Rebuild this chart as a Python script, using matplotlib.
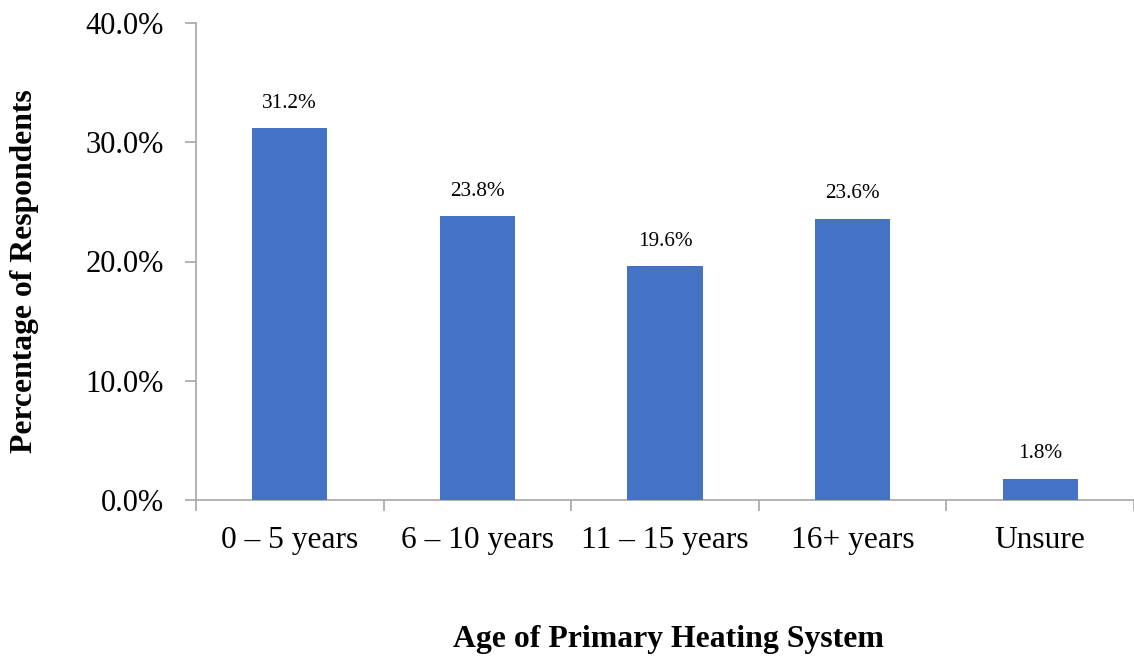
import numpy as np
import matplotlib
matplotlib.use('Agg')
import matplotlib.pyplot as plt
from matplotlib.ticker import FuncFormatter

categories = ['0 – 5 years', '6 – 10 years', '11 – 15 years', '16+ years', 'Unsure']
values = [31.2, 23.8, 19.6, 23.6, 1.8]

plt.rcParams['font.family'] = ['Liberation Serif', 'DejaVu Serif']

W, H = 1134, 658
fig = plt.figure(figsize=(W / 100, H / 100), dpi=100)
left, zero_y, top_y = 196, 500, 23
step = 188.6  # pixels per category
ax = fig.add_axes([left / W, 1 - zero_y / H, (W - left) / W, (zero_y - top_y) / H])

x = np.arange(len(categories))
ax.bar(x, values, width=0.4, color='#4472C4', zorder=3)

for xi, v in zip(x, values):
    ax.annotate('{:.1f}%'.format(v), (xi, v), xytext=(0, 11), textcoords='offset points',
                ha='center', va='bottom', fontsize=15.3)

ax.set_ylim(0, 40)
ax.set_xlim(-0.5, -0.5 + (W - left) / step)
ax.set_yticks([0, 10, 20, 30, 40])
ax.yaxis.set_major_formatter(FuncFormatter(lambda v, p: '{:.1f}%'.format(v)))

# category labels centred, ticks on category boundaries
ax.set_xticks(x)
ax.set_xticklabels(categories, fontsize=22.7)
ax.set_xticks(np.arange(len(categories) + 1) - 0.5, minor=True)
ax.tick_params(axis='x', which='major', length=0, pad=19)
ax.tick_params(axis='x', which='minor', length=8, color='#A6A6A6', width=1.2)
ax.tick_params(axis='y', length=8, color='#A6A6A6', width=1.2, pad=15, labelsize=22)

for s in ['top', 'right']:
    ax.spines[s].set_visible(False)
for s in ['left', 'bottom']:
    ax.spines[s].set_color('#A6A6A6')
    ax.spines[s].set_linewidth(1.2)

fig.text(25 / W, 1 - 271 / H, 'Percentage of Respondents', rotation=90, ha='center', va='center',
         fontsize=22.8, fontweight='bold')
fig.text(668 / W, 1 - 640 / H, 'Age of Primary Heating System', ha='center', va='center',
         fontsize=22.9, fontweight='bold')

fig.savefig('out.png', dpi=100)
